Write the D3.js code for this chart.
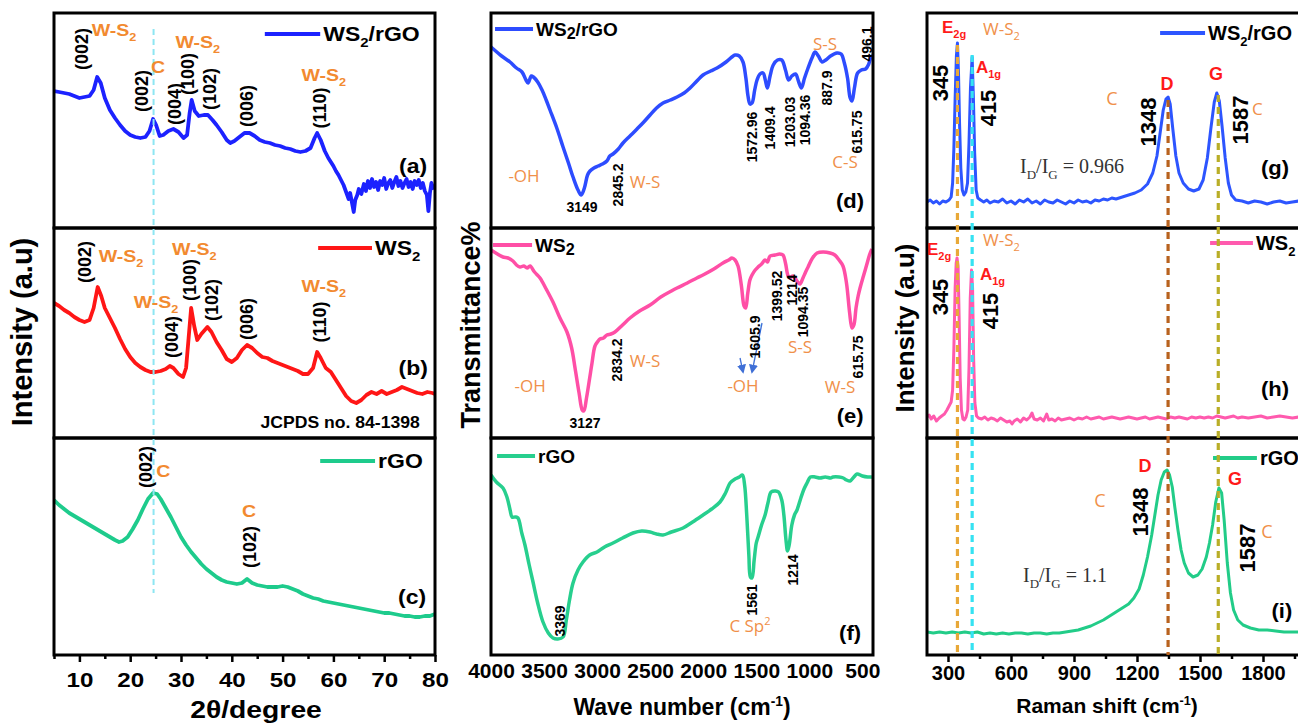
<!DOCTYPE html>
<html><head><meta charset="utf-8">
<script src="https://cdn.jsdelivr.net/npm/d3@7"></script>
<style>body{margin:0;background:#fff}svg{display:block}</style>
</head><body>
<svg id="c" width="1298" height="726"></svg>
<script>
// ---------------- DATA ----------------
const xrdTicks = [10,20,30,40,50,60,70,80];
const xrdMinor = [5,15,25,35,45,55,65,75];
const ftirTicks = [4000,3500,3000,2500,2000,1500,1000,500];
const ramanTicks = [300,600,900,1200,1500,1800];
const ramanMinor = [450,750,1050,1350,1650,1950];
const sampleNames = ["WS_2/rGO","WS_2","rGO"];

// XRD (2theta, intensity a.u.)
const xrdWS2rGO = [[5,137],[6,136],[7,135],[8,134],[9,132],[10,130],[11,131],[12,132],[12.8,138],[13.5,151],[14.2,145],[15,130],[16,118],[17,110],[18,103],[19,97],[20,93],[21,91],[22,90],[23,91],[23.8,97],[24.5,109],[25.1,103],[25.8,92],[26.5,93],[27.5,97],[28.5,99],[29.5,96],[30.5,90],[31.2,93],[31.7,115],[32.1,128],[32.7,117],[33.5,112],[34.5,113],[35.3,113],[36.2,108],[37,103],[38,96],[39,88],[39.7,85],[40.5,87],[41.5,91],[42.5,95],[43.5,95],[44.5,92],[45.5,88],[46.5,86],[47.5,85],[48.5,83],[49.5,82],[50.5,80],[51.5,79],[52.5,77],[53.5,76],[54.5,77],[55.5,80],[56.3,90],[56.8,95],[57.5,88],[58.3,77],[59,70],[59.5,66],[60,62],[60.5,57],[61,53],[61.5,48],[62,43],[62.5,36],[63,29],[63.3,35],[63.7,24],[64,16],[64.3,28],[64.7,33],[65,39],[65.5,34],[66,44],[66.4,37],[66.8,47],[67.2,40],[67.6,49],[68,41],[68.4,46],[68.8,38],[69.2,47],[69.6,43],[70,50],[70.4,39],[70.8,45],[71.2,48],[71.6,40],[72,46],[72.4,51],[72.8,42],[73.2,47],[73.6,40],[74,45],[74.4,49],[74.8,41],[75.2,46],[75.6,39],[76,47],[76.4,43],[76.8,48],[77.2,40],[77.6,45],[78,37],[78.4,33],[78.7,17],[79,35],[79.3,45],[79.6,40],[80,43]];
const xrdWS2 = [[5,135],[6,132],[7,128],[8,125],[9,121],[10,118],[11,116],[12,118],[12.8,130],[13.6,151],[14.3,142],[15,130],[16,120],[17,110],[18,99],[19,89],[20,81],[21,75],[22,71],[23,68],[24,66],[25,66],[26,67],[27,69],[27.8,72],[28.5,70],[29.5,64],[30.4,61],[31,70],[31.5,100],[32,130],[32.6,112],[33.2,98],[34,104],[35.2,111],[36,106],[37,96],[38,88],[39,79],[40,76],[41,80],[42,88],[43,93],[44,90],[45,85],[46,81],[47,80],[48,77],[49,75],[50,73],[51,71],[52,69],[53,67],[54,64],[55,64],[56,70],[56.8,86],[57.5,80],[58.5,70],[59.5,66],[60.5,58],[61.5,50],[62.5,42],[63.5,37],[64.5,35],[65.5,38],[66.5,43],[67.5,46],[68.5,44],[69.5,47],[70.5,44],[71.5,46],[72.5,48],[73.5,51],[74.5,49],[75.5,47],[76.5,45],[77.5,44],[78.5,46],[79.5,45],[80,44]];
const xrdRGO = [[5,155],[6,150],[7,146],[8,142],[9,139],[10,136],[11,133],[12,130],[13,127],[14,124],[15,121],[16,118],[17,115],[17.8,113],[18.5,114],[19.5,118],[20.5,126],[21.5,135],[22.5,146],[23.5,156],[24.5,162],[25.3,161],[26,156],[27,147],[28,138],[29,128],[30,118],[31,110],[32,103],[33,97],[34,91],[35,86],[36,82],[37,78],[38,75],[39,73],[40,72],[41,71],[42,72],[43,76],[44,72],[45,70],[46,69],[47,68],[48,68],[49,68],[50,69],[51,68],[52,66],[53,64],[54,61],[55,59],[56,57],[57,56],[58,54],[59,53],[60,52],[61,51],[62,50],[63,49],[64,48],[65,47],[66,46],[67,45],[68,44],[69,43],[70,42],[71,42],[72,41],[73,40],[74,39],[75,39],[76,38],[77,38],[78,39],[79,39],[80,41]];

// FTIR (wavenumber, transmittance a.u.)
const ftirWS2rGO = [[4000,181],[3900,172],[3821,166],[3760,160],[3708,156],[3670,148],[3651,145],[3620,152],[3600,151],[3560,146],[3519,138],[3480,128],[3444,118],[3380,100],[3321,81],[3270,65],[3227,51],[3180,38],[3150,33],[3120,40],[3090,53],[3067,57],[3030,60],[2991,62],[2950,64],[2908,67],[2880,72],[2850,74],[2800,79],[2756,85],[2690,92],[2624,99],[2560,106],[2501,113],[2440,120],[2379,125],[2310,128],[2247,131],[2180,135],[2124,140],[2060,147],[2002,153],[1930,157],[1870,160],[1785,166],[1730,171],[1700,173],[1660,172],[1625,166],[1598,150],[1578,132],[1560,124],[1540,125],[1515,138],[1493,148],[1465,154],[1436,155],[1415,148],[1395,140],[1370,152],[1340,163],[1300,168],[1260,168],[1225,158],[1195,148],[1165,152],[1130,154],[1100,146],[1075,140],[1045,150],[1012,160],[975,170],[946,176],[915,172],[880,166],[845,168],[800,172],[740,175],[700,174],[670,165],[640,150],[615,130],[598,127],[575,140],[545,155],[510,158],[470,159],[440,164],[419,171],[405,172]];
const ftirWS2 = [[4000,188],[3940,184],[3887,181],[3840,180],[3793,177],[3760,173],[3727,171],[3690,172],[3660,170],[3632,172],[3590,166],[3538,160],[3480,149],[3416,136],[3350,120],[3284,106],[3240,90],[3208,70],[3170,45],[3140,28],[3125,27],[3100,40],[3070,60],[3048,75],[3020,92],[2990,97],[2973,99],[2940,100],[2908,103],[2870,104],[2832,106],[2760,113],[2690,120],[2600,127],[2501,133],[2400,141],[2300,147],[2247,150],[2150,155],[2060,160],[2002,163],[1900,169],[1814,175],[1760,178],[1729,180],[1700,178],[1672,172],[1640,152],[1615,132],[1600,130],[1580,145],[1560,158],[1540,163],[1510,168],[1483,171],[1450,174],[1417,178],[1395,176],[1370,182],[1323,183],[1280,184],[1248,183],[1225,175],[1200,162],[1182,160],[1160,162],[1135,160],[1110,156],[1088,154],[1060,160],[1035,166],[1012,171],[970,180],[927,185],[870,186],[805,185],[760,183],[720,178],[683,172],[650,155],[620,125],[598,110],[580,113],[560,130],[540,142],[522,150],[490,162],[460,173],[430,184],[410,189]];
const ftirRGO = [[4000,180],[3950,173],[3887,167],[3850,158],[3820,145],[3802,138],[3770,138],[3746,137],[3710,122],[3680,110],[3640,90],[3604,73],[3560,52],[3510,33],[3460,22],[3416,17],[3370,16],[3321,18],[3290,35],[3260,55],[3227,72],[3180,85],[3133,93],[3070,100],[3001,103],[2930,108],[2850,112],[2760,117],[2662,122],[2580,124],[2501,123],[2440,121],[2379,120],[2300,123],[2190,127],[2100,133],[2002,140],[1920,146],[1842,153],[1790,162],[1747,172],[1700,176],[1660,178],[1630,180],[1610,170],[1590,140],[1570,100],[1555,78],[1540,77],[1520,95],[1500,112],[1483,118],[1450,130],[1417,140],[1390,152],[1360,163],[1320,164],[1290,163],[1260,155],[1240,140],[1220,115],[1205,104],[1190,110],[1165,130],[1140,140],[1116,145],[1080,157],[1050,166],[1022,172],[990,178],[946,178],[900,177],[850,178],[800,177],[776,178],[720,178],[680,177],[650,175],[616,174],[580,178],[550,181],[500,179],[450,178],[410,178]];

// Raman (shift, intensity a.u.)
const ramanWS2rGO = [[200,26],[215,28],[230,25],[245,27],[260,24],[275,27],[290,26],[305,28],[315,31],[322,45],[328,80],[334,130],[340,172],[345,185],[350,155],[355,105],[361,60],[368,38],[376,33],[385,36],[393,45],[400,85],[407,140],[415,171],[421,130],[427,75],[434,38],[442,30],[455,28],[470,26],[485,28],[500,25],[520,27],[540,26],[560,29],[580,25],[600,27],[620,24],[640,28],[660,26],[680,29],[700,25],[720,27],[740,24],[760,28],[780,26],[800,25],[820,28],[840,26],[860,24],[880,27],[900,25],[920,28],[940,26],[960,27],[980,25],[1000,28],[1020,27],[1040,29],[1060,28],[1080,30],[1100,29],[1130,31],[1160,33],[1190,35],[1220,38],[1250,44],[1275,55],[1295,72],[1312,98],[1325,118],[1338,129],[1348,131],[1358,124],[1370,100],[1385,72],[1400,55],[1420,45],[1445,39],[1470,37],[1495,39],[1515,48],[1535,70],[1552,100],[1568,126],[1580,135],[1592,127],[1605,102],[1620,70],[1635,45],[1650,33],[1670,28],[1700,27],[1730,25],[1760,27],[1790,26],[1820,24],[1850,26],[1880,27],[1910,25],[1940,26],[1970,27],[2000,26]];
const ramanWS2 = [[200,21],[210,23],[220,19],[232,22],[245,17],[258,20],[270,22],[283,24],[295,28],[305,32],[315,36],[322,48],[328,90],[334,150],[339,175],[343,180],[348,172],[353,120],[358,60],[364,28],[371,19],[378,18],[386,21],[394,28],[400,70],[406,140],[412,168],[417,150],[422,80],[428,35],[436,22],[445,20],[460,19],[475,21],[490,18],[505,20],[520,19],[535,17],[550,20],[565,18],[580,16],[595,17],[605,14],[615,17],[630,19],[645,16],[660,20],[675,18],[690,21],[700,25],[710,19],[725,18],[740,20],[755,17],[770,24],[780,18],[795,19],[810,17],[825,20],[840,18],[860,19],[880,20],[900,18],[920,20],[940,19],[960,21],[980,19],[1000,20],[1020,21],[1040,19],[1060,20],[1080,21],[1100,20],[1120,19],[1140,20],[1160,21],[1180,20],[1200,19],[1220,20],[1240,21],[1260,19],[1280,20],[1300,21],[1320,20],[1340,19],[1360,21],[1380,20],[1400,21],[1420,20],[1440,19],[1460,21],[1480,20],[1500,21],[1520,20],[1540,21],[1560,20],[1580,22],[1600,21],[1620,20],[1640,21],[1660,22],[1680,20],[1700,21],[1730,20],[1760,21],[1790,22],[1820,20],[1850,21],[1880,22],[1910,21],[1940,20],[1970,21],[2000,20]];
const ramanRGO = [[200,23],[230,22],[260,23],[290,22],[320,23],[350,22],[380,23],[410,22],[440,23],[470,21],[500,22],[530,21],[560,22],[590,21],[620,22],[650,22],[680,21],[710,22],[740,22],[770,21],[800,22],[830,22],[860,23],[890,24],[920,25],[950,27],[980,29],[1010,32],[1040,35],[1070,39],[1100,43],[1130,47],[1160,51],[1185,57],[1210,66],[1230,80],[1250,98],[1270,120],[1285,140],[1300,160],[1315,175],[1330,183],[1343,185],[1355,180],[1368,168],[1380,148],[1395,125],[1410,105],[1425,92],[1445,82],[1467,78],[1490,80],[1510,86],[1530,98],[1545,112],[1560,130],[1575,153],[1590,167],[1603,162],[1615,135],[1630,92],[1645,62],[1660,45],[1680,35],[1705,30],[1740,27],[1780,25],[1820,25],[1860,24],[1900,23],[1950,23],[2000,23]];

// reference lines
const xrdRef = [24.6];
const ramanModes = [345,415,1348,1587];
const ramanModeTops = [183,173,128,133];

// annotations: [row, text, x(data), y(data), style]
const xrdLabels = [
 [0,"W-S_2",16.8,192,"xor"],[0,"(002)",10.5,179,"hkl"],[0,"(002)",22.3,137,"hkl"],[0,"C",25.5,155,"xor"],
 [0,"W-S_2",33.3,180,"xor"],[0,"(004)",28.8,124,"hkl"],[0,"(100)",31.4,154,"hkl"],[0,"(102)",35.7,139,"hkl"],
 [0,"(006)",43,122,"hkl"],[0,"W-S_2",58.1,147,"xor"],[0,"(110)",57.4,120,"hkl"],[0,"(a)",75.7,62,"letter"],
 [1,"(002)",11.1,176,"hkl"],[1,"W-S_2",18.2,176,"xor"],[1,"W-S_2",32.6,183,"xor"],[1,"W-S_2",25.1,130,"xor"],
 [1,"(100)",31.8,158,"hkl"],[1,"(102)",36.1,138,"hkl"],[1,"(004)",28.2,101,"hkl"],[1,"(006)",43,119,"hkl"],
 [1,"W-S_2",58.1,146,"xor"],[1,"(110)",57.4,116,"hkl"],[1,"(b)",75.7,70,"letter"],[1,"JCPDS no. 84-1398",77,10,"jc"],
 [2,"(002)",23.1,188,"hkl"],[2,"C",26.5,178,"xor"],[2,"C",43.4,138,"xor"],[2,"(102)",43.6,108,"hkl"],[2,"(c)",75.5,58,"letter"]
];
const ftirLabels = [
 [0,"-OH",3689,46,"ftor"],[0,"3149",3142,16,"fth"],[0,"2845.2",2803,43,"ftn"],[0,"W-S",2549,40,"ftor"],
 [0,"1572.96",1540,91,"ftn"],[0,"1409.4",1370,100,"ftn"],[0,"1203.03",1182,106,"ftn"],[0,"1094.36",1041,108,"ftn"],
 [0,"887.9",833,140,"ftn"],[0,"615.75",550,96,"ftn"],[0,"496.1",456,184,"ftn"],[0,"S-S",852,178,"ftor"],
 [0,"C-S",663,60,"ftor"],[0,"(d)",616,28,"letter"],
 [1,"-OH",3632,46,"ftor"],[1,"3127",3114,10,"fth"],[1,"2834.2",2812,78,"ftn"],[1,"W-S",2549,71,"ftor"],
 [1,"1605.9",1512,101,"ftn"],[1,"-OH",1625,46,"ftor"],[1,"1399.52",1304,142,"ftn"],[1,"1214",1163,148,"ftn"],
 [1,"1094.35",1059,126,"ftn"],[1,"S-S",1088,85,"ftor"],[1,"615.75",541,81,"ftn"],[1,"W-S",711,45,"ftor"],[1,"(e)",616,23,"letter"],
 [2,"3369",3350,34,"ftn"],[2,"1561",1540,55,"ftn"],[2,"C Sp^2",1559,23,"ftor"],[2,"1214",1154,85,"ftn"],[2,"(f)",616,23,"letter"]
];
const ftirArrows = [[1653,80,1625,66],[1446,115,1540,66]];
const ramanLabels = [
 [0,"E_{2g}",271,195,"rred"],[0,"W-S_2",467,193,"ror"],[0,"345",262,145,"rn"],[0,"A_{1g}",433,155,"rred"],
 [0,"415",490,120,"rn"],[0,"C",1081,123,"rorm"],[0,"D",1343,138,"rredm"],[0,"1348",1252,106,"rn"],
 [0,"G",1576,148,"rredm"],[0,"1587",1690,108,"rn"],[0,"C",1748,113,"ror"],[0,"I_D/I_G = 0.966",643,55,"ratio"],[0,"(g)",1857,61,"letter"],
 [1,"W-S_2",467,192,"ror"],[1,"E_{2g}",200,183,"rred"],[1,"A_{1g}",452,158,"rred"],[1,"345",262,141,"rn"],
 [1,"415",500,127,"rn"],[1,"(h)",1857,50,"letter"],
 [2,"D",1238,183,"rredm"],[2,"C",1024,148,"rorm"],[2,"1348",1214,143,"rn"],[2,"G",1667,170,"rredm"],
 [2,"1587",1724,107,"rn"],[2,"C",1819,117,"rorm"],[2,"I_D/I_G = 1.1",657,73,"ratio"],[2,"(i)",1890,45,"letter"]
];
// legend line extents [x1, x2, y] in data units
const xrdLegend = [[46.5,57.4,194],[57,67.6,190],[57.4,68.2,194]];
const ftirLegend = [[3962,3604,199],[3981,3613,193],[3943,3585,199]];
const ramanLegend = [[1310,1524,195],[1548,1752,195],[1562,1771,197]];

// ---------------- DRAWING ----------------
const svg = d3.select('#c');
const SANS = "'Liberation Sans', Arial, Helvetica, sans-serif";
const LIGHT = "'Open Sans', 'Liberation Sans', sans-serif";
const SERIF = "'Liberation Serif', 'Times New Roman', serif";
const ROWS = [13, 228, 438, 655];
const yS = r => d3.scaleLinear().domain([0, ROWS[r+1]-ROWS[r]]).range([ROWS[r+1], ROWS[r]]);

const ST = {
  hkl:{size:18, rot:true, anchor:'middle', central:true},
  xor:{size:17, fill:'#f28a30', anchor:'middle', sx:1.15},
  letter:{size:20, anchor:'middle', central:true, sx:1.1},
  jc:{size:16, anchor:'end', sx:1.1},
  ftn:{size:14, rot:true, anchor:'middle', central:true},
  fth:{size:14, anchor:'middle'},
  ftor:{size:17, family:LIGHT, weight:'normal', fill:'#f0904a', anchor:'middle'},
  rn:{size:22, rot:true, anchor:'middle', central:true},
  rred:{size:17, fill:'#ff1a1a', anchor:'start'},
  rredm:{size:18, fill:'#ff1a1a', anchor:'middle'},
  ror:{size:17, family:LIGHT, weight:'normal', fill:'#f0904a', anchor:'start'},
  rorm:{size:18, family:LIGHT, weight:'normal', fill:'#f0904a', anchor:'middle'},
  ratio:{size:20, family:SERIF, weight:'normal', fill:'#333', anchor:'start'}
};

function parse(s){
  const out=[]; const re=/([_^])\{([^}]*)\}|([_^])(.)/g; let last=0, m;
  while((m=re.exec(s))){
    if(m.index>last) out.push([s.slice(last,m.index),'']);
    const op = m[1]||m[3];
    out.push([m[2]!==undefined?m[2]:m[4], op==='_'?'sub':'sup']);
    last=re.lastIndex;
  }
  if(last<s.length) out.push([s.slice(last),'']);
  return out;
}
function txt(parent, s, x, y, st){
  const g = parent.append('g').attr('transform', `translate(${x},${y}) scale(${st.sx||1},1)` + (st.rot?' rotate(-90)':''));
  const t = g.append('text').attr('font-family', st.family||SANS).attr('font-weight', st.weight||'bold')
    .attr('font-size', st.size).attr('fill', st.fill||'#000').attr('text-anchor', st.anchor||'start');
  if(st.central) t.attr('dominant-baseline','central');
  let shift=0;
  parse(s).forEach(([p,k])=>{
    const target = k==='sub'? st.size*(st.subDy||0.28) : k==='sup'? -st.size*0.4 : 0;
    const ts = t.append('tspan').text(p);
    if(target-shift!==0) ts.attr('dy', target-shift);
    if(k) ts.attr('font-size', st.size*(st.subScale||0.65));
    shift=target;
  });
  return t;
}

const cols = [
  {key:'xrd', x:d3.scaleLinear().domain([5,80]).range([54,435]), series:[xrdWS2rGO,xrdWS2,xrdRGO],
   colors:['#1c22ff','#ff1616','#1ecb8c'], width:3.8, curve:d3.curveLinear, labels:xrdLabels, legend:xrdLegend,
   legSt:{size:20, sx:1.15}},
  {key:'ftir', x:d3.scaleLinear().domain([4000,400]).range([491,873]), series:[ftirWS2rGO,ftirWS2,ftirRGO],
   colors:['#2d4cff','#ff4fa6','#27cf8e'], width:3.5, curve:d3.curveCatmullRom, labels:ftirLabels, legend:ftirLegend,
   legSt:{size:19, subDy:0.18, subScale:0.85}},
  {key:'raman', x:d3.scaleLinear().domain([200,2000]).range([927,1305]), series:[ramanWS2rGO,ramanWS2,ramanRGO],
   colors:['#2d55ff','#ff5aae','#22cc88'], width:3, curve:d3.curveLinear, labels:ramanLabels, legend:ramanLegend,
   legSt:{size:20}}
];

const defs = svg.append('defs');
defs.append('marker').attr('id','arr').attr('viewBox','0 0 10 10').attr('refX',8).attr('refY',5)
  .attr('markerWidth',7).attr('markerHeight',7).attr('orient','auto')
  .append('path').attr('d','M0,0 L10,5 L0,10 z').attr('fill','#3f6fd6');

cols.forEach((c,ci)=>{
  const [x0,x1] = c.x.range();
  for(let r=0;r<3;r++){
    const y = yS(r);
    const cid = `clip${ci}${r}`;
    defs.append('clipPath').attr('id',cid).append('rect')
      .attr('x',x0).attr('y',ROWS[r]).attr('width',x1-x0).attr('height',ROWS[r+1]-ROWS[r]);
    const line = d3.line().x(d=>c.x(d[0])).y(d=>y(d[1])).curve(c.curve);
    svg.append('path').datum(c.series[r]).attr('d',line).attr('fill','none')
      .attr('stroke',c.colors[r]).attr('stroke-width',c.width).attr('stroke-linejoin','round')
      .attr('clip-path',`url(#${cid})`);
    // legend
    const L = c.legend[r];
    svg.append('line').attr('x1',c.x(L[0])).attr('x2',c.x(L[1])).attr('y1',y(L[2])).attr('y2',y(L[2]))
      .attr('stroke',c.colors[r]).attr('stroke-width',4);
    txt(svg, sampleNames[r], Math.max(c.x(L[0]),c.x(L[1]))+3, y(L[2])+7, c.legSt);
  }
  // frames
  for(let r=0;r<3;r++){
    svg.append('rect').attr('x',x0).attr('y',ROWS[r]).attr('width',x1-x0).attr('height',ROWS[r+1]-ROWS[r])
      .attr('fill','none').attr('stroke','#000').attr('stroke-width',3);
  }
});

// XRD reference line
const cx = cols[0].x;
xrdRef.forEach(v=>{
  svg.append('line').attr('x1',cx(v)).attr('x2',cx(v)).attr('y1',yS(0)(199)).attr('y2',yS(2)(62))
    .attr('stroke','#8ee6f2').attr('stroke-width',2).attr('stroke-dasharray','6,4');
});
// Raman mode lines
const rx = cols[2].x;
const modeColors = ['#e8a838','#35e2f2','#b8621e','#b9ae28'];
ramanModes.forEach((v,i)=>{
  svg.append('line').attr('x1',rx(v)).attr('x2',rx(v)).attr('y1',yS(0)(ramanModeTops[i])).attr('y2',ROWS[3])
    .attr('stroke',modeColors[i]).attr('stroke-width',3.2).attr('stroke-dasharray','7,5');
});
// FTIR arrows
const fx = cols[1].x;
ftirArrows.forEach(a=>{
  svg.append('line').attr('x1',fx(a[0])).attr('y1',yS(1)(a[1])).attr('x2',fx(a[2])).attr('y2',yS(1)(a[3]))
    .attr('stroke','#3f6fd6').attr('stroke-width',1.3).attr('marker-end','url(#arr)');
});

// annotations
cols.forEach(c=>{
  c.labels.forEach(([r,s,xv,yv,st])=>{
    const base = Object.assign({}, ST[st]);
    if(c.key==='xrd' && st==='letter') base.sx=1.15;
    txt(svg, s, c.x(xv), yS(r)(yv), base);
  });
});

// axes
function axis(c, ticks, minor, size, pad, fs, sx){
  const g = svg.append('g').attr('transform',`translate(0,${ROWS[3]})`)
    .call(d3.axisBottom(c.x).tickValues(ticks).tickFormat(d3.format('d')).tickSize(size).tickPadding(pad));
  g.select('.domain').remove();
  g.selectAll('.tick line').attr('stroke','#000').attr('stroke-width',2.5);
  g.selectAll('.tick text').attr('font-family',SANS).attr('font-weight','bold').attr('font-size',fs)
    .attr('fill','#000').attr('transform',`scale(${sx},1)`);
  if(minor){
    const m = svg.append('g').attr('transform',`translate(0,${ROWS[3]})`)
      .call(d3.axisBottom(c.x).tickValues(minor).tickSize(4).tickFormat(''));
    m.select('.domain').remove();
    m.selectAll('.tick line').attr('stroke','#000').attr('stroke-width',2.5);
  }
}
axis(cols[0], xrdTicks, xrdMinor, 7, 10, 21, 1.15);
axis(cols[1], ftirTicks, null, 0, 8, 21, 1);
axis(cols[2], ramanTicks, ramanMinor, 7, 4, 20, 1);

// axis titles
txt(svg, "2θ/degree", 256, 718, {size:24, anchor:'middle', sx:1.18});
txt(svg, "Wave number (cm^{-1})", 682, 715, {size:23, anchor:'middle', subScale:0.6});
txt(svg, "Raman shift (cm^{-1})", 1107, 713, {size:21, anchor:'middle', subScale:0.6});
txt(svg, "Intensity (a.u)", 22, 332, {size:29, rot:true, anchor:'middle', central:true});
txt(svg, "Transmittance%", 471, 325, {size:27, rot:true, anchor:'middle', central:true});
txt(svg, "Intensity (a.u)", 905, 328, {size:26, rot:true, anchor:'middle', central:true});
</script>
</body></html>
